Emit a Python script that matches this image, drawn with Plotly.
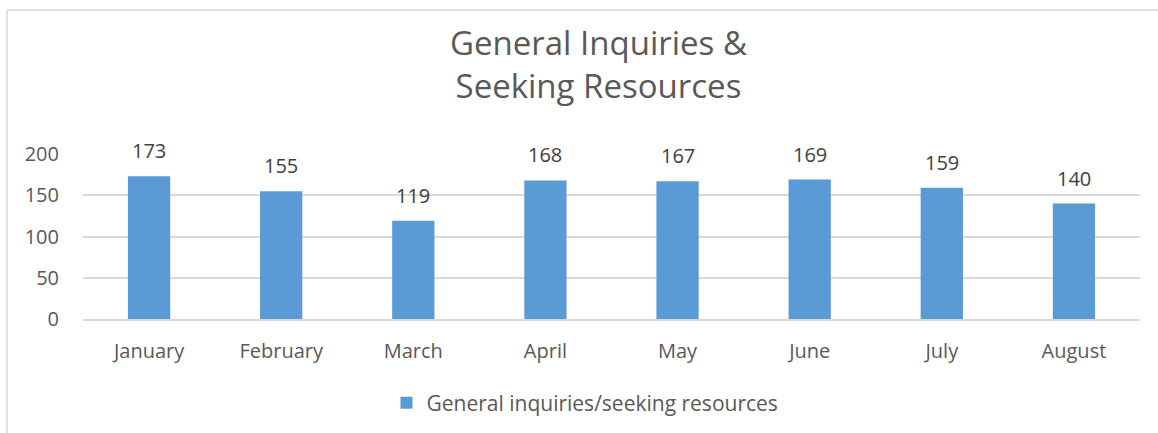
import plotly.graph_objects as go

months = ["January", "February", "March", "April", "May", "June", "July", "August"]
values = [173, 155, 119, 168, 167, 169, 159, 140]
series_name = "General inquiries/seeking resources"
title_lines = ["General Inquiries &", "Seeking Resources"]
y_ticks = [0, 50, 100, 150, 200]

FONT = "Open Sans"
GRAY = "#595959"
BAR = "#5B9BD5"
GRID = "#D9D9D9"

W, H = 1158, 433
L, R, T, B = 83, 18, 154, 114
pw = W - L - R
ph = H - T - B

def px_x(px):
    return (px - L) / pw

def px_y(py):
    return (H - B - py) / ph

fig = go.Figure()
fig.add_trace(go.Bar(
    x=months, y=values, name=series_name,
    marker=dict(color=BAR, line=dict(width=0)),
    showlegend=True,
))

for m, v in zip(months, values):
    fig.add_annotation(x=m, y=v, text=str(v), showarrow=False,
                       yanchor="bottom", yshift=10,
                       font=dict(family=FONT, size=20, color="#404040"))

# title
fig.add_annotation(xref="paper", yref="paper", x=px_x(598), y=px_y(64),
                   xanchor="center", yanchor="middle", showarrow=False,
                   text="<br>".join(title_lines),
                   font=dict(family=FONT, size=33, color=GRAY))

fig.add_shape(type="rect", xref="paper", yref="paper",
              x0=px_x(7), x1=px_x(W + 5), y0=px_y(H + 5), y1=px_y(10),
              line=dict(color=GRID, width=1.5), fillcolor="rgba(0,0,0,0)", layer="below")

fig.update_layout(
    width=W, height=H,
    margin=dict(l=L, r=R, t=T, b=B, autoexpand=False),
    paper_bgcolor="white", plot_bgcolor="white",
    font=dict(family=FONT, color=GRAY, size=20),
    bargap=0.68,
    showlegend=True,
    legend=dict(orientation="h", x=px_x(585), xanchor="center", y=px_y(403), yanchor="middle",
                font=dict(family=FONT, size=21, color=GRAY), itemwidth=30),
    xaxis=dict(showgrid=False, showline=True, linecolor=GRID, linewidth=1.5,
               ticks="", ticklabelstandoff=13, tickfont=dict(family=FONT, size=20, color=GRAY)),
    yaxis=dict(range=[0, 200], tickvals=y_ticks, showgrid=True, gridcolor=GRID, gridwidth=1.5,
               zeroline=False, showline=False, ticks="", ticklabelstandoff=23,
               tickfont=dict(family=FONT, size=20, color=GRAY)),
)

fig.write_html("out.html", config={"displayModeBar": False},
               post_script="document.body.style.margin='0';document.body.style.overflow='hidden';")
